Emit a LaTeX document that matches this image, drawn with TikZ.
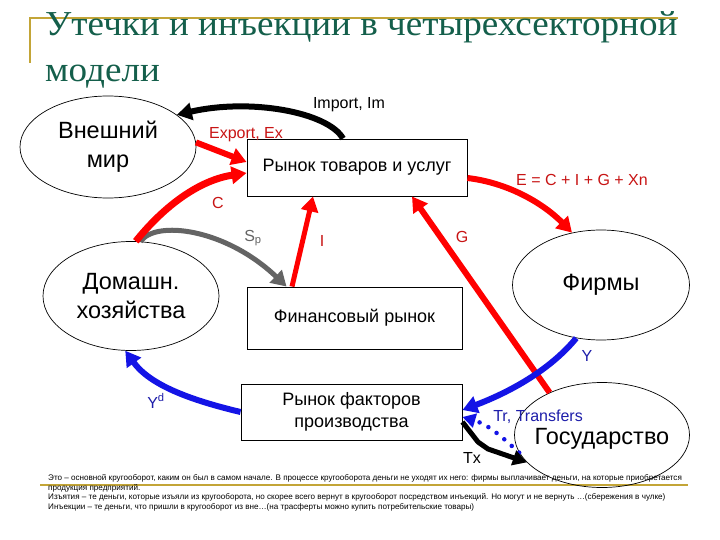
\documentclass[tikz,border=0pt]{standalone}
\usepackage{fontspec}
\setmainfont{Liberation Sans}
\newfontfamily\titlefont{Liberation Serif}
\usetikzlibrary{arrows.meta,shapes.geometric,calc}
\definecolor{titlegreen}{RGB}{20,95,75}
\definecolor{gold}{RGB}{195,165,55}
\definecolor{flowred}{RGB}{255,0,0}
\definecolor{labred}{RGB}{200,20,20}
\definecolor{flowblue}{RGB}{20,20,230}
\definecolor{labblue}{RGB}{30,30,170}
\definecolor{flowgray}{RGB}{100,100,100}
\begin{document}
\begin{tikzpicture}[x=1pt,y=-1pt,
  sector/.style={draw,ellipse,inner sep=0pt,line width=0.7pt},
  sectortext/.style={align=center,font=\fontsize{23.5}{29}\selectfont},
  market/.style={draw,rectangle,inner sep=0pt,align=center,font=\fontsize{18}{22}\selectfont,line width=0.9pt},
  flow/.style={line width=6pt,-{Triangle[length=15pt,width=17pt]}},
  lab/.style={font=\fontsize{16}{19}\selectfont,inner sep=0pt},
  note/.style={font=\fontsize{8.1}{9}\selectfont,inner sep=0pt,anchor=base west},
  ttl/.style={anchor=base west,inner sep=0pt,text=titlegreen,font=\titlefont\fontsize{35}{40}\selectfont}
]
\fill[white] (0,0) rectangle (720,540);
\useasboundingbox (0,0) rectangle (720,540);

% decorative lines
\draw[gold,line width=2pt] (30,63) -- (30,18) -- (678,18);
\draw[gold,line width=2.5pt] (40,485) -- (688,485);

% title
\node[ttl] (t1) at (45,36) {\scalebox{1.06}[1]{Утечки и инъекции в четырехсекторной}};
\node[ttl] (t2) at (45,82) {\scalebox{1.06}[1]{модели}};

% sectors
\node[sector,minimum width=176pt,minimum height=102pt,
  label={[sectortext]center:Внешний\\мир}] (ext) at (108,147) {};
\node[sector,minimum width=176pt,minimum height=109pt,
  label={[sectortext]center:Домашн.\\хозяйства}] (hh) at (131,296) {};
\node[sector,minimum width=177pt,minimum height=110pt,
  label={[sectortext]center:Фирмы}] (firms) at (601,285) {};
\node[sector,minimum width=175pt,minimum height=105pt,
  label={[sectortext,yshift=-4pt]center:Государство}] (gov) at (602,435) {};

% markets
\node[market,minimum width=220pt,minimum height=57pt] (goods) at (357,167.5) {Рынок товаров и услуг};
\node[market,minimum width=215pt,minimum height=62pt] (fin) at (354.5,318) {Финансовый рынок};
\node[market,minimum width=221pt,minimum height=56pt] (fac) at (351.5,412) {Рынок факторов\\производства};

% flows
\draw[flow,black] ([xshift=-14pt]goods.north) .. controls (328,112) and (250,98) .. (ext.25);
\draw[flow,flowred] (ext.3) -- ([yshift=5.5pt]goods.west);
\draw[flow,flowgray,line width=5pt] (hh.80) .. controls (155,220) and (225,228) .. ([xshift=40pt]fin.north west);
\draw[flow,flowred,line width=7pt] (hh.85) .. controls (165,205) and (200,180) .. ([yshift=-5.5pt]goods.west);
\draw[flow,flowred,line width=5pt] ([xshift=-62.5pt]fin.north) -- ([xshift=-44pt]goods.south);
\draw[flow,flowred] (gov.141) -- ([xshift=55pt]goods.south);
\draw[flow,flowred] ([yshift=-10.5pt]goods.east) .. controls (510,183) and (545,205) .. (firms.119);
\draw[flow,flowblue] (firms.245) .. controls (550,370) and (510,392) .. ([yshift=2pt]fac.east);
\draw[flow,flowblue] (fac.west) .. controls (190,400) and (150,385) .. (hh.264);
\draw[flowblue,line width=4.5pt,line cap=round,dash pattern=on 0pt off 10pt,
  -{Triangle[length=13pt,width=14pt]}] (gov.192) .. controls (505,440) and (490,425) .. ([yshift=-5pt]fac.east);
\draw[black,line width=5pt,line join=round,-{Triangle[length=14pt,width=15pt]}]
  ([yshift=-10pt]fac.east) -- (478,442) -- (488,449) -- (gov.200);

% labels
\node[lab] (limp) at (349,105) {Import, Im};
\node[lab,text=labred] (lexp) at (246,135) {Export, Ex};
\node[lab,text=labred] (lc) at (218,203) {C};
\node[lab,text=flowgray] (lsp) at (253,238) {S\textsubscript{p}};
\node[lab,text=labred] (li) at (322,241) {I};
\node[lab,text=labred] (lg) at (462,237) {G};
\node[lab,text=labred] (le) at (582,180) {E = C + I + G + Xn};
\node[lab,text=labblue] (ly) at (587,356) {Y};
\node[lab,text=labblue] (lyd) at (156,401) {Y\textsuperscript{d}};
\node[lab,text=labblue] (ltr) at (538,417) {Tr, Transfers};
\node[lab] (ltx) at (472,458) {Tx};

% notes
\node[note] (n1) at (48,480) {Это – основной кругооборот, каким он был в самом начале. В процессе кругооборота деньги не уходят их него: фирмы выплачивает деньги, на которые приобретается};
\node[note] (n2) at (48,490) {продукция предприятий.};
\node[note] (n3) at (48,499) {Изъятия – те деньги, которые изъяли из кругооборота, но скорее всего вернут в кругооборот посредством инъекций. Но могут и не вернуть …(сбережения в чулке)};
\node[note] (n4) at (48,509) {Инъекции – те деньги, что пришли в кругооборот из вне…(на трасферты можно купить потребительские товары)};
\end{tikzpicture}
\end{document}
